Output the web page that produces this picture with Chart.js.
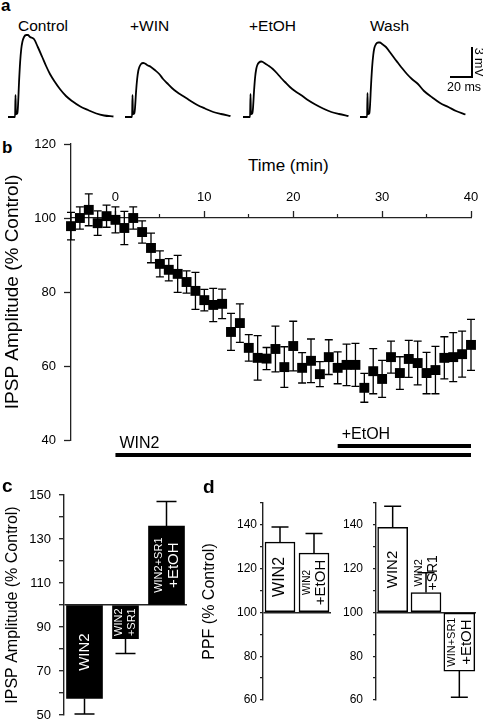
<!DOCTYPE html>
<html>
<head>
<meta charset="utf-8">
<script src="https://cdn.jsdelivr.net/npm/chart.js@4.4.1/dist/chart.umd.min.js"></script>
<style>
  html, body { margin: 0; padding: 0; background: #fff; }
  body { width: 483px; height: 719px; position: relative; overflow: hidden; font-family: "Liberation Sans", Arial, sans-serif; color: #000; }
  canvas { position: absolute; }
  .txt { position: absolute; white-space: nowrap; line-height: 1; }
  .panel { font-weight: bold; }
  .rule { position: absolute; background: #000; }
</style>
</head>
<body>

<!-- panel a -->
<div class="txt panel" style="left:1px; top:-3px; font-size:17px;">a</div>
<div class="txt" style="left:18px; top:17.5px; font-size:15.5px;">Control</div>
<div class="txt" style="left:130px; top:17.5px; font-size:15.5px;">+WIN</div>
<div class="txt" style="left:249px; top:17.5px; font-size:15.5px;">+EtOH</div>
<div class="txt" style="left:370px; top:17.5px; font-size:15.5px;">Wash</div>
<canvas id="traceControl" width="106" height="88" style="left:8px; top:32px;"></canvas>
<canvas id="traceWin" width="106" height="88" style="left:125px; top:32px;"></canvas>
<canvas id="traceEtoh" width="106" height="88" style="left:243px; top:32px;"></canvas>
<canvas id="traceWash" width="106" height="88" style="left:360px; top:32px;"></canvas>
<div class="rule" style="left:471px; top:47px; width:2px; height:31px;"></div>
<div class="rule" style="left:450px; top:76px; width:23px; height:2px;"></div>
<div class="txt" style="left:464px; top:56px; font-size:12.5px; transform:rotate(90deg); transform-origin:50% 50%;">3 mV</div>
<div class="txt" style="left:447px; top:81px; font-size:12.5px;">20 ms</div>

<!-- panel b -->
<div class="txt panel" style="left:2px; top:139px; font-size:17px;">b</div>
<div class="txt" style="left:248px; top:157px; font-size:17px;">Time (min)</div>
<canvas id="timeAxis" width="483" height="60" style="left:0; top:170px; z-index:0;"></canvas>
<canvas id="ipspChart" width="483" height="335" style="left:0; top:130px; z-index:1;"></canvas>

<!-- panel c -->
<canvas id="ampBars" width="200" height="244" style="left:0; top:475px;"></canvas>
<div class="txt panel" style="left:2px; top:476px; font-size:19px;">c</div>

<!-- panel d -->
<canvas id="ppfLeft" width="140" height="244" style="left:200px; top:475px;"></canvas>
<canvas id="ppfRight" width="143" height="244" style="left:340px; top:475px;"></canvas>
<div class="txt panel" style="left:203px; top:477px; font-size:19px;">d</div>

<script>
// ---- panel a: IPSP traces (ms from start of sweep, mV above baseline)
const traceTime = [0, 6.4, 6.8, 7.2, 8.5, 9, 10, 11, 12, 13, 14.5, 16.5, 18, 20, 23.5, 27, 31, 34.5, 38, 42.5, 47, 52.5, 58, 65.5, 72.5, 80, 87, 95.5];
const controlTrace = [0, 0, 2.2, 0.3, 0.4, 1.0, 3.5, 5.5, 6.8, 7.5, 8.0, 8.2, 8.2, 8.0, 7.8, 7.0, 6.0, 5.1, 4.3, 3.5, 2.8, 2.1, 1.6, 1.05, 0.7, 0.35, 0.15, 0.05];
const winTrace = [0, 0, 2.2, 0.3, 0.4, 0.8, 2.5, 3.8, 4.6, 5.0, 5.3, 5.4, 5.35, 5.2, 5.0, 4.7, 4.3, 3.8, 3.4, 2.9, 2.5, 2.1, 1.7, 1.2, 0.85, 0.5, 0.3, 0.1];
const etohTrace = [0, 0, 2.3, 0.3, 0.4, 0.8, 2.6, 4.0, 4.8, 5.2, 5.45, 5.55, 5.5, 5.35, 5.1, 4.8, 4.35, 3.9, 3.5, 3.0, 2.6, 2.2, 1.75, 1.25, 0.85, 0.5, 0.3, 0.1];
const washTrace = [0, 0, 2.4, 0.3, 0.4, 1.0, 3.2, 5.0, 6.2, 6.9, 7.3, 7.45, 7.45, 7.3, 7.0, 6.5, 5.9, 5.4, 4.9, 4.3, 3.8, 3.3, 2.6, 1.95, 1.4, 1.0, 0.6, 0.25];

// ---- panel b: IPSP amplitude time course
const timeMin = [-5, -4, -3, -2, -1, 0, 1, 2, 3, 4, 5, 6, 7, 8, 9, 10, 11, 12, 13, 14, 15, 16, 17, 18, 19, 20, 21, 22, 23, 24, 25, 26, 27, 28, 29, 30, 31, 32, 33, 34, 35, 36, 37, 38, 39, 40];
const ipspMean = [97.8, 100, 102.2, 98.6, 100.5, 99.5, 97.3, 100, 96.2, 91.9, 87.6, 86, 84.9, 82.7, 80.3, 77.8, 76.5, 76.8, 69.2, 71.6, 64.9, 62.2, 62, 64.6, 59.7, 65.4, 59.5, 61.4, 57.8, 62.4, 59.5, 60.3, 60.3, 54.1, 58.6, 56.5, 62.4, 58.1, 61.9, 60.8, 58.1, 58.9, 62.2, 62.4, 63.2, 65.7];
const ipspSem = [3.7, 3, 4.3, 3.3, 3, 3.5, 4.5, 3, 3, 4, 3.5, 3, 5, 3, 5, 2.9, 4.5, 4, 5, 5.2, 3.6, 6, 3, 6.2, 5.5, 6.7, 4.1, 5.9, 3.4, 4.7, 4.3, 5.6, 5.8, 3.9, 6.1, 5, 4.3, 4.4, 5, 5.9, 5.6, 6.4, 5.7, 6.6, 6.2, 6.9];
const ipspYTicks = [40, 60, 80, 100, 120];
const timeMajorTicks = [0, 10, 20, 30, 40];
const timeMinorTicks = [5, 15, 25, 35];
const drugNames = ["WIN2", "+EtOH"];
const drugStart = [0, 25];
const drugEnd = [40, 40];

// ---- panel c: IPSP amplitude summary
const ampGroups = ["WIN2", "WIN2\n+SR1", "WIN2+SR1\n+EtOH"];
const ampMean = [57.5, 84.7, 135.9];
const ampSem = [7, 6.8, 11.1];
const ampTicks = [50, 60, 70, 80, 90, 100, 110, 120, 130, 140, 150];
const ampTickLabels = [50, 70, 90, 110, 130, 150];

// ---- panel d: paired-pulse facilitation
const ppfGroupsA = ["WIN2", "WIN2\n+EtOH"];
const ppfMeanA = [132.1, 127.1];
const ppfSemA = [6.9, 9];
const ppfGroupsB = ["WIN2", "WIN2\n+SR1", "WIN+SR1\n+EtOH"];
const ppfMeanB = [138.9, 109.1, 73.2];
const ppfSemB = [9.6, 9, 11.9];
const ppfTicks = [60, 70, 80, 90, 100, 110, 120, 130, 140, 150];
const ppfTickLabels = [60, 80, 100, 120, 140];

const FONT = '"Liberation Sans", Arial, sans-serif';
Chart.defaults.font.family = FONT;
Chart.defaults.color = "#000";
Chart.defaults.animation = false;
Chart.defaults.responsive = false;
Chart.defaults.events = [];
Chart.defaults.plugins.legend.display = false;
Chart.defaults.plugins.tooltip.enabled = false;

// error bars, drawn under the marks; "both" for the time course, outward for bars
const errorBarPlugin = {
  id: "errorBars",
  beforeDatasetsDraw(chart, args, opts) {
    if (!opts.values) return;
    const ctx = chart.ctx;
    const yScale = chart.scales.y;
    ctx.save();
    ctx.strokeStyle = "#000";
    ctx.lineWidth = opts.lineWidth;
    chart.data.datasets.forEach((ds, di) => {
      chart.getDatasetMeta(di).data.forEach((el, i) => {
        const raw = ds.data[i];
        if (raw === null || raw === undefined) return;
        const v = typeof raw === "object" ? raw.y : raw;
        const e = opts.values[i];
        const ends = opts.both ? [v + e, v - e] : [v >= opts.base ? v + e : v - e];
        const half = opts.cap / 2;
        ends.forEach((end) => {
          const y1 = yScale.getPixelForValue(end);
          ctx.beginPath();
          ctx.moveTo(el.x, el.y);
          ctx.lineTo(el.x, y1);
          ctx.moveTo(el.x - half, y1);
          ctx.lineTo(el.x + half, y1);
          ctx.stroke();
        });
      });
    });
    ctx.restore();
  },
};

// rotated group names inside the bars (or just past the end if the bar is too short)
const barLabelPlugin = {
  id: "barLabels",
  afterDatasetsDraw(chart, args, opts) {
    if (!opts.text) return;
    const ctx = chart.ctx;
    ctx.save();
    ctx.fillStyle = opts.color;
    ctx.textAlign = "center";
    ctx.textBaseline = "middle";
    chart.data.datasets.forEach((ds, di) => {
      chart.getDatasetMeta(di).data.forEach((el, i) => {
        if (ds.data[i] === null || ds.data[i] === undefined) return;
        const lines = opts.text[i].split("\n");
        const sizes = opts.sizes[i];
        let longest = 0;
        lines.forEach((line, k) => {
          ctx.font = sizes[k] + "px " + FONT;
          longest = Math.max(longest, ctx.measureText(line).width);
        });
        const barLen = Math.abs(el.base - el.y);
        let cy = (el.y + el.base) / 2;
        if (longest > barLen - 4) {
          cy = el.y < el.base ? el.y - 2 - longest / 2 : el.y + 2 + longest / 2;
        }
        const gap = lines.length > 1 ? (sizes[0] + sizes[1]) / 2 + 2 : 0;
        ctx.save();
        ctx.translate(el.x, cy);
        ctx.rotate(-Math.PI / 2);
        lines.forEach((line, k) => {
          ctx.font = sizes[k] + "px " + FONT;
          ctx.fillText(line, 0, (k - (lines.length - 1) / 2) * gap);
        });
        ctx.restore();
      });
    });
    ctx.restore();
  },
};

// drug application bars under the time course
const treatmentPlugin = {
  id: "treatments",
  afterDraw(chart, args, opts) {
    const ctx = chart.ctx;
    const xScale = chart.scales.x;
    const area = chart.chartArea;
    ctx.save();
    ctx.fillStyle = "#000";
    ctx.font = "16px " + FONT;
    ctx.textBaseline = "alphabetic";
    drugNames.forEach((name, i) => {
      const y = area.bottom + opts.rows[i];
      const x0 = xScale.getPixelForValue(drugStart[i]);
      const x1 = xScale.getPixelForValue(drugEnd[i]);
      ctx.fillRect(x0, y - 2, x1 - x0, 4);
      ctx.fillText(name, x0 + 4, y - 7);
    });
    ctx.restore();
  },
};

function fixedWidth(w) {
  return function (scale) {
    scale.width = w;
    scale.paddingTop = 0;
    scale.paddingBottom = 0;
  };
}

function useTicks(values) {
  return function (scale) {
    scale.ticks = values.map((v) => ({ value: v }));
  };
}

function buildTrace(id, values) {
  new Chart(document.getElementById(id), {
    type: "scatter",
    data: {
      datasets: [
        {
          data: traceTime.map((t, i) => ({ x: t, y: values[i] })),
          showLine: true,
          pointRadius: 0,
          borderColor: "#000",
          borderWidth: 1.8,
          cubicInterpolationMode: "monotone",
          clip: false,
        },
      ],
    },
    options: {
      layout: { padding: 0 },
      scales: {
        x: { type: "linear", min: 0, max: 96, display: false },
        y: { min: -0.3, max: 8.5, display: false },
      },
    },
  });
}

function buildTimeCourse() {
  new Chart(document.getElementById("ipspChart"), {
    type: "scatter",
    data: {
      datasets: [
        {
          data: timeMin.map((t, i) => ({ x: t, y: ipspMean[i] })),
          pointStyle: "rect",
          pointRadius: 7,
          backgroundColor: "#000",
          borderColor: "#000",
          borderWidth: 0,
          clip: false,
        },
      ],
    },
    options: {
      layout: { padding: { top: 14, bottom: 25, left: 0, right: 12 } },
      plugins: {
        errorBars: { values: ipspSem, both: true, cap: 8, lineWidth: 1.3 },
        treatments: { rows: [15, 6] },
      },
      scales: {
        x: { type: "linear", min: -5, max: 40, display: false },
        y: {
          min: 40,
          max: 120,
          afterBuildTicks: useTicks(ipspYTicks),
          afterFit: fixedWidth(71),
          border: { color: "#222", width: 1.3 },
          grid: { drawOnChartArea: false, tickLength: 7, tickColor: "#222", tickWidth: 1.3 },
          ticks: { font: { size: 13 }, padding: 8, color: "#000" },
          title: {
            display: true,
            text: "IPSP Amplitude (% Control)",
            font: { size: 19 },
            padding: { top: 1, bottom: 0 },
            color: "#000",
          },
        },
      },
    },
    plugins: [errorBarPlugin, treatmentPlugin],
  });

  new Chart(document.getElementById("timeAxis"), {
    type: "scatter",
    data: { datasets: [] },
    options: {
      layout: { padding: { top: 18, bottom: 0, left: 71, right: 12 } },
      scales: {
        x: {
          type: "linear",
          position: "top",
          weight: 1,
          min: -5,
          max: 40,
          afterBuildTicks: useTicks(timeMajorTicks),
          afterFit(scale) {
            scale.height = 30;
            scale.paddingLeft = 0;
            scale.paddingRight = 0;
          },
          border: { color: "#222", width: 1.3 },
          grid: { drawOnChartArea: false, tickLength: 7, tickColor: "#222", tickWidth: 1.3 },
          ticks: { font: { size: 13 }, padding: 6, maxRotation: 0, autoSkip: false },
        },
        x2: {
          type: "linear",
          position: "top",
          weight: 0,
          min: -5,
          max: 40,
          afterBuildTicks: useTicks(timeMinorTicks),
          afterFit(scale) {
            scale.height = 0;
            scale.paddingLeft = 0;
            scale.paddingRight = 0;
          },
          border: { display: false },
          grid: { drawOnChartArea: false, tickLength: 4, tickColor: "#222", tickWidth: 1.2 },
          ticks: { display: false },
        },
        y: { display: false },
      },
    },
  });
}

function buildBars(id, cfg) {
  return new Chart(document.getElementById(id), {
    type: "bar",
    data: {
      labels: cfg.groups,
      datasets: cfg.groups.map((g, i) => ({
        data: cfg.means.map((v, j) => (j === i ? v : null)),
        base: 100,
        grouped: false,
        barThickness: cfg.widths[i],
        backgroundColor: cfg.fill,
        borderColor: "#000",
        borderWidth: cfg.border,
        borderSkipped: false,
        clip: false,
      })),
    },
    options: {
      layout: { padding: cfg.padding },
      plugins: {
        errorBars: { values: cfg.sems, both: false, base: 100, cap: cfg.cap, lineWidth: 1.5 },
        barLabels: { text: cfg.groups, sizes: cfg.labelSizes, color: cfg.labelColor },
      },
      scales: {
        x: { type: "category", display: false },
        y: {
          min: cfg.min,
          max: cfg.max,
          afterBuildTicks: useTicks(cfg.ticks),
          afterFit: fixedWidth(cfg.axisWidth),
          border: { color: "#222", width: 1.4 },
          grid: {
            drawOnChartArea: true,
            color: (ctx) => (ctx.tick && ctx.tick.value === 100 ? "#222" : "rgba(0,0,0,0)"),
            lineWidth: 1.4,
            tickLength: cfg.tickLength,
            tickColor: "#222",
            tickWidth: 1.3,
          },
          ticks: {
            font: { size: cfg.fontSize },
            padding: cfg.tickPadding,
            autoSkip: false,
            callback: (v) => (cfg.tickLabels.includes(v) ? String(v) : ""),
          },
          title: {
            display: !!cfg.title,
            text: cfg.title || "",
            font: { size: 16 },
            padding: { top: cfg.titlePad, bottom: 0 },
          },
        },
      },
    },
    plugins: [errorBarPlugin, barLabelPlugin],
  });
}

document.addEventListener("DOMContentLoaded", function () {
  buildTrace("traceControl", controlTrace);
  buildTrace("traceWin", winTrace);
  buildTrace("traceEtoh", etohTrace);
  buildTrace("traceWash", washTrace);
  buildTimeCourse();

  buildBars("ampBars", {
    groups: ampGroups, means: ampMean, sems: ampSem,
    min: 50, max: 150, ticks: ampTicks, tickLabels: ampTickLabels,
    widths: [36, 26, 36], fill: "#000", border: 0, cap: 20,
    labelSizes: [[15], [11, 11], [11, 15]], labelColor: "#fff",
    padding: { top: 20, bottom: 4, left: 0, right: 13 },
    axisWidth: 64, tickLength: 5, tickPadding: 8, fontSize: 13,
    title: "IPSP Amplitude (% Control)", titlePad: 3,
  });
  buildBars("ppfLeft", {
    groups: ppfGroupsA, means: ppfMeanA, sems: ppfSemA,
    min: 60, max: 150, ticks: ppfTicks, tickLabels: ppfTickLabels,
    widths: [30, 30], fill: "#fff", border: 1.5, cap: 17,
    labelSizes: [[16], [10, 15]], labelColor: "#000",
    padding: { top: 28, bottom: 19, left: 0, right: 9 },
    axisWidth: 63, tickLength: 3, tickPadding: 3, fontSize: 12,
    title: "PPF (% Control)", titlePad: 0,
  });
  buildBars("ppfRight", {
    groups: ppfGroupsB, means: ppfMeanB, sems: ppfSemB,
    min: 60, max: 150, ticks: ppfTicks, tickLabels: ppfTickLabels,
    widths: [30, 30, 31], fill: "#fff", border: 1.5, cap: 17,
    labelSizes: [[15], [11, 14], [11, 15]], labelColor: "#000",
    padding: { top: 28, bottom: 19, left: 0, right: 7 },
    axisWidth: 36, tickLength: 3, tickPadding: 10, fontSize: 12,
    title: "", titlePad: 0,
  });
});
</script>
</body>
</html>
